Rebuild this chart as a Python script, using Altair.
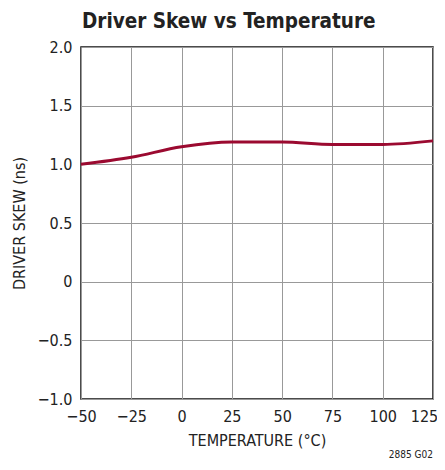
import altair as alt
import pandas as pd

temps = [-50, -25, 0, 25, 50, 75, 100, 125]
skew = [1.00, 1.06, 1.15, 1.19, 1.19, 1.17, 1.17, 1.20]
x_ticks = [-50, -25, 0, 25, 50, 75, 100, 125]
y_ticks = [-1.0, -0.5, 0, 0.5, 1.0, 1.5, 2.0]
title_text = "Driver Skew vs Temperature"
note_text = "2885 G02"

df = pd.DataFrame({"temp": temps, "skew": skew})

FONT = "'DejaVu Sans Condensed', 'Liberation Sans', sans-serif"
LINE_COLOR = "#9b0a30"

minus = "replace(format(datum.value, '{fmt}'), '-', '\u2212')"

base = alt.Chart(df)

line = base.mark_line(color=LINE_COLOR, strokeWidth=3, interpolate="monotone").encode(
    x=alt.X("temp:Q",
            scale=alt.Scale(domain=[-50, 125], nice=False, zero=False),
            axis=alt.Axis(values=x_ticks, title="TEMPERATURE (°C)",
                          labelExpr=minus.format(fmt="d"),
                          labelFlush=False, labelOverlap=False,
                          labelOffset={"condition": {"test": "datum.value == 125", "value": -9},
                                       "value": 0},
                          ticks=False, labelPadding=9, titlePadding=8,
                          grid=True, domain=False)),
    y=alt.Y("skew:Q",
            scale=alt.Scale(domain=[-1.0, 2.0], nice=False, zero=False),
            axis=alt.Axis(values=y_ticks, title="DRIVER SKEW (ns)",
                          labelExpr="datum.value == 0 ? '0' : " + minus.format(fmt=".1f"),
                          labelFlush=False, labelOverlap=False,
                          ticks=False, labelPadding=9, titlePadding=10,
                          grid=True, domain=False)),
)

title = alt.Chart(pd.DataFrame({"t": [title_text]})).mark_text(
    align="left", baseline="alphabetic", font=FONT, fontSize=20.5,
    fontWeight="bold", color="#222"
).encode(x=alt.value(1), y=alt.value(-19), text="t:N")

note = alt.Chart(pd.DataFrame({"t": [note_text]})).mark_text(
    align="right", baseline="middle", font=FONT, fontSize=10, color="#222"
).encode(x=alt.value(352), y=alt.value(408), text="t:N")

chart = alt.layer(line, title, note).properties(
    width=352, height=352,
    padding={"left": 73, "top": 39, "right": 4, "bottom": 63},
    autosize=alt.AutoSizeParams(type="none"),
).configure_view(stroke="#111", strokeWidth=1.5).configure_axis(
    labelFont=FONT, titleFont=FONT, labelFontSize=16, titleFontSize=16,
    labelColor="#222", titleColor="#222", titleFontWeight="normal",
    gridColor="#999", gridWidth=1, gridOpacity=1,
)

chart.save("out.html", embed_options={"renderer": "svg", "actions": False})
